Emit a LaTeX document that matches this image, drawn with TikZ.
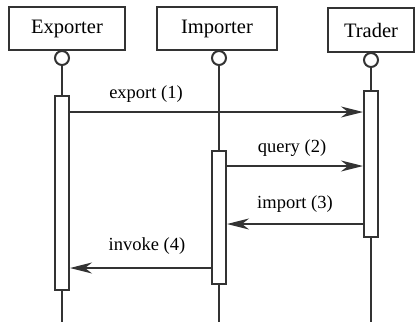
\documentclass[tikz,border=0pt]{standalone}
\usepackage{fontspec}
\setmainfont{Liberation Serif}
\usetikzlibrary{arrows.meta}
\begin{document}
\begin{tikzpicture}[x=1pt,y=-1pt,
  line width=2pt, draw=black!80,
  actor/.style={draw, rectangle, minimum height=43pt, inner sep=0pt, font=\fontsize{20.5}{24}\selectfont},
  port/.style={draw, circle, minimum size=14pt, inner sep=0pt, fill=white},
  bar/.style={draw, rectangle, minimum width=14pt, inner sep=0pt, fill=white},
  life/.style={draw=black!80, line width=2pt},
  msg/.style={draw=black!80, line width=2pt, -{Stealth[length=22pt,width=11pt,inset=7pt]}},
  lbl/.style={font=\fontsize{18.5}{22}\selectfont, inner sep=0pt}]
\useasboundingbox (0,0) rectangle (416,322);
% actors
\node[actor, minimum width=116pt] (exp) at (67,28.5) {Exporter};
\node[actor, minimum width=120pt] (imp) at (217,28.5) {Importer};
\node[actor, minimum width=86pt, minimum height=44pt] (trd) at (371,30) {Trader};
% ports
\node[port, anchor=north] (pe) at (62,50) {};
\node[port, anchor=north] (pi) at (219,50) {};
\node[port, anchor=north] (pt) at (371,52) {};
% activation bars
\node[bar, minimum height=194pt] (be) at (62,193) {};
\node[bar, minimum height=133pt] (bi) at (219,217.5) {};
\node[bar, minimum height=146pt] (bt) at (371,164) {};
% bottom ends
\coordinate (ee) at (62,322);
\coordinate (ie) at (219,322);
\coordinate (te) at (371,322);
% lifelines
\draw[life] (pe.south) -- (be.north);
\draw[life] (be.south) -- (ee);
\draw[life] (pi.south) -- (bi.north);
\draw[life] (bi.south) -- (ie);
\draw[life] (pt.south) -- (bt.north);
\draw[life] (bt.south) -- (te);
% messages
\draw[msg] (be.east |- 0,112) -- (bt.west |- 0,112);
\draw[msg] (bi.east |- 0,166) -- (bt.west |- 0,166);
\draw[msg] (bt.west |- 0,224) -- (bi.east |- 0,224);
\draw[msg] (bi.west |- 0,268) -- (be.east |- 0,268);
% labels
\node[lbl] (l1) at (146,94) {export (1)};
\node[lbl] (l2) at (292,148) {query (2)};
\node[lbl] (l3) at (295,204) {import (3)};
\node[lbl] (l4) at (147,246) {invoke (4)};
\end{tikzpicture}
\end{document}
